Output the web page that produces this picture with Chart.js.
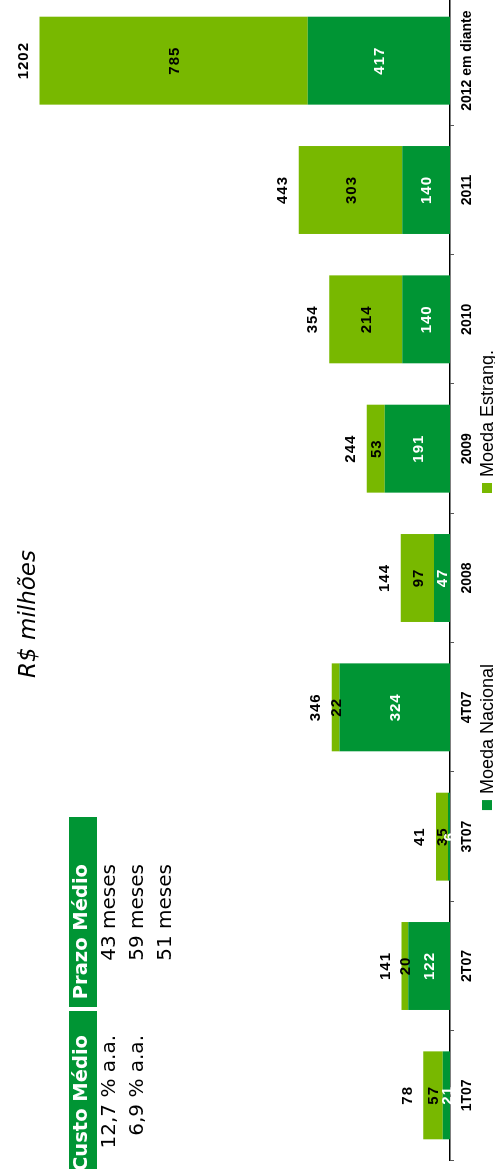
<!DOCTYPE html>
<html>
  <head>
    <meta charset="utf-8" />
    <title>Endividamento</title>
    <script src="https://cdn.jsdelivr.net/npm/chart.js@4.4.0/dist/chart.umd.min.js"></script>
    <style>
      html,
      body {
        margin: 0;
        padding: 0;
        width: 495px;
        height: 1169px;
        overflow: hidden;
        background: #fff;
      }
      /* the whole slide is drawn landscape and turned a quarter to the left */
      #rotated {
        position: absolute;
        left: 0;
        top: 0;
        width: 1173px;
        height: 495px;
        transform-origin: 0 0;
        transform: translate(0, 1169px) rotate(-90deg);
      }
      #chart {
        position: absolute;
        left: 0;
        top: 0;
      }
      #titulo {
        position: absolute;
        left: 355px;
        top: 14px;
        width: 400px;
        line-height: 28px;
        text-align: center;
        font: italic 23px "DejaVu Sans", sans-serif;
        color: #000;
      }
      .cab {
        position: absolute;
        top: 69px;
        height: 28px;
        line-height: 28px;
        background: #009534;
        color: #fff;
        font: bold 19.5px "DejaVu Sans", sans-serif;
        text-align: right;
        white-space: nowrap;
        box-sizing: border-box;
      }
      .val {
        position: absolute;
        height: 28px;
        line-height: 28px;
        font: 20px "DejaVu Sans", sans-serif;
        color: #000;
        text-align: right;
        white-space: nowrap;
      }
    </style>
  </head>
  <body>
    <div id="rotated">
      <canvas id="chart" width="1173" height="495"></canvas>
      <div id="titulo">R$ milhões</div>
      <div id="tabela"></div>
    </div>

    <script type="text/javascript">
      const categorias = ["1T07", "2T07", "3T07", "4T07", "2008", "2009", "2010", "2011", "2012 em diante"];
      const moedaNacional = [21, 122, 6, 324, 47, 191, 140, 140, 417];
      const moedaEstrang = [57, 20, 35, 22, 97, 53, 214, 303, 785];
      const totais = [78, 141, 41, 346, 144, 244, 354, 443, 1202];

      const cabecalhos = ["Custo Médio", "Prazo Médio"];
      const custoMedio = ["12,7 % a.a.", "6,9 % a.a.", ""];
      const prazoMedio = ["43 meses", "59 meses", "51 meses"];

      const VERDE = "#009534";
      const VERDE_CLARO = "#78b800";
      const FONTE = '"Liberation Sans", Arial, sans-serif';

      // small table in the upper left corner
      const tabela = document.getElementById("tabela");
      const colunas = [
        { left: -30, width: 188, right: 134, valores: custoMedio },
        { left: 162, width: 190, right: 305, valores: prazoMedio },
      ];
      colunas.forEach((col, c) => {
        const cab = document.createElement("div");
        cab.className = "cab";
        cab.style.left = col.left + "px";
        cab.style.width = col.width + "px";
        cab.style.paddingRight = col.left + col.width - col.right + "px";
        cab.textContent = cabecalhos[c];
        tabela.appendChild(cab);
        col.valores.forEach((v, r) => {
          const d = document.createElement("div");
          d.className = "val";
          d.style.left = col.right - 200 + "px";
          d.style.width = "200px";
          d.style.top = 96 + r * 28 + "px";
          d.textContent = v;
          tabela.appendChild(d);
        });
      });

      // values inside the bars and totals above them
      const rotulos = {
        id: "rotulos",
        afterDatasetsDraw(chart) {
          const ctx = chart.ctx;
          ctx.save();
          ctx.textAlign = "center";
          ctx.textBaseline = "middle";
          ctx.font = "bold 15px " + FONTE;
          ctx.letterSpacing = "1px";
          [1, 0].forEach((di) => {
            const meta = chart.getDatasetMeta(di);
            ctx.fillStyle = di === 0 ? "#fff" : "#000";
            meta.data.forEach((bar, i) => {
              const v = chart.data.datasets[di].data[i];
              ctx.fillText(v, bar.x, (bar.y + bar.base) / 2 + 1);
            });
          });
          ctx.fillStyle = "#000";
          chart.getDatasetMeta(1).data.forEach((bar, i) => {
            ctx.fillText(totais[i], bar.x, bar.y - 16);
          });
          ctx.restore();
        },
      };

      // legend under the category labels, two items far apart
      const legenda = {
        id: "legenda",
        afterDraw(chart) {
          const ctx = chart.ctx;
          ctx.save();
          ctx.font = "18px " + FONTE;
          ctx.textBaseline = "middle";
          const box = 10;
          const gap = 6;
          const entre = 171;
          const itens = chart.data.datasets.map((d) => ({
            texto: d.label,
            cor: d.backgroundColor,
            w: box + gap + ctx.measureText(d.label).width,
          }));
          const total = itens.reduce((s, it) => s + it.w, 0) + entre * (itens.length - 1);
          const ca = chart.chartArea;
          let x = (ca.left + ca.right) / 2 - 2 - total / 2;
          const y = 488;
          itens.forEach((it) => {
            ctx.fillStyle = it.cor;
            ctx.fillRect(x, y - 6, box, box);
            ctx.fillStyle = "#000";
            ctx.fillText(it.texto, x + box + gap, y);
            x += it.w + entre;
          });
          ctx.restore();
        },
      };

      new Chart(document.getElementById("chart"), {
        type: "bar",
        data: {
          labels: categorias,
          datasets: [
            {
              label: "Moeda Nacional",
              data: moedaNacional,
              backgroundColor: VERDE,
              barPercentage: 0.68,
              categoryPercentage: 1,
            },
            {
              label: "Moeda Estrang.",
              data: moedaEstrang,
              backgroundColor: VERDE_CLARO,
              barPercentage: 0.68,
              categoryPercentage: 1,
            },
          ],
        },
        options: {
          responsive: false,
          animation: false,
          devicePixelRatio: 1,
          layout: { padding: { left: 9, right: 0, top: 0, bottom: 0 } },
          plugins: {
            legend: { display: false },
            tooltip: { enabled: false },
          },
          scales: {
            x: {
              stacked: true,
              offset: true,
              grid: {
                display: true,
                drawOnChartArea: false,
                drawTicks: true,
                tickLength: 4,
                color: "#555",
                offset: true,
              },
              border: { display: true, color: "#000", width: 1.5 },
              ticks: {
                color: "#000",
                font: { family: FONTE, size: 14, weight: "bold" },
                padding: 5,
                maxRotation: 0,
                autoSkip: false,
              },
              afterFit: (s) => {
                s.height = 45;
              },
            },
            y: {
              stacked: true,
              display: false,
              min: 0,
              max: 1318,
            },
          },
        },
        plugins: [rotulos, legenda],
      });
    </script>
  </body>
</html>
